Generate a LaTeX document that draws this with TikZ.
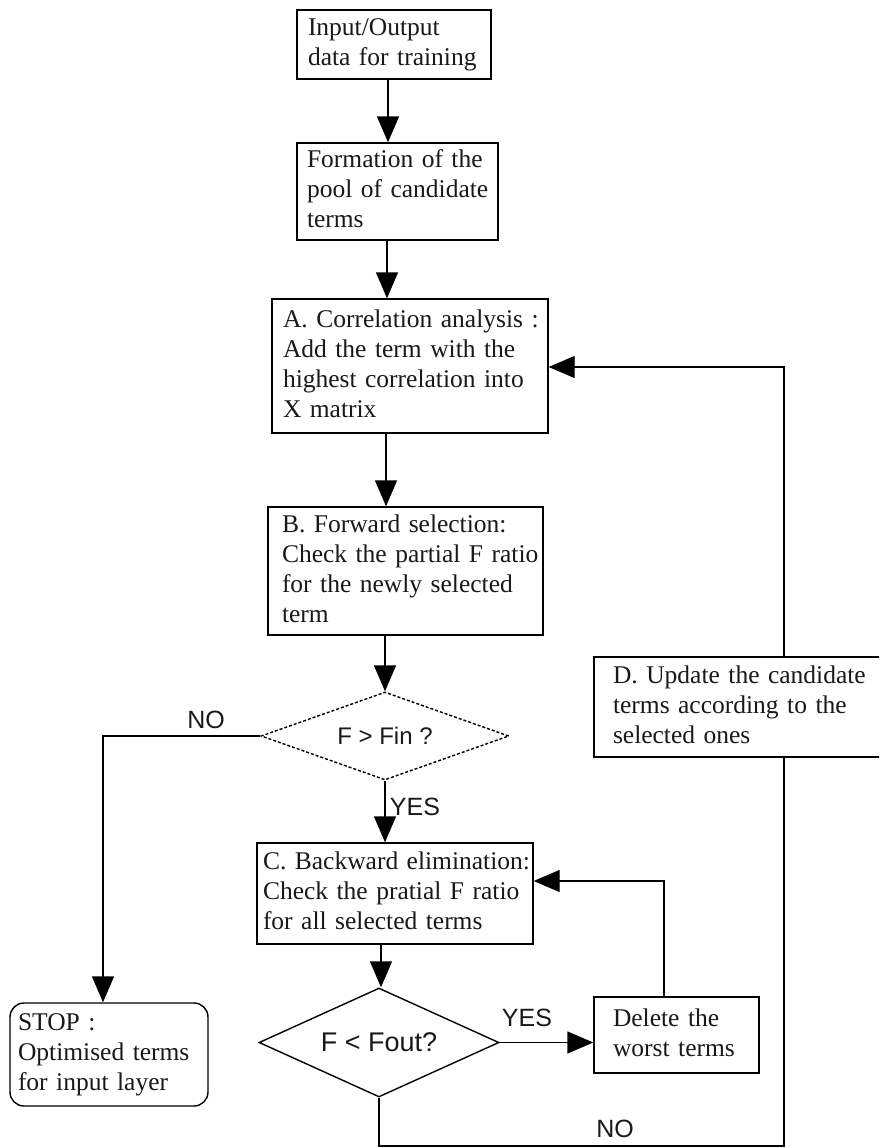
\documentclass[tikz,border=0pt]{standalone}
\usepackage{fontspec}
\setmainfont{Liberation Serif}
\newfontfamily\labelsans{Liberation Sans}
\usetikzlibrary{arrows.meta,shapes.geometric}
\newcommand\boxlines[1]{\begin{tabular}{@{}l@{}}#1\end{tabular}}
\begin{document}
\begin{tikzpicture}[x=1pt,y=-1pt,
  box/.style={draw, line width=1.4pt, rectangle, align=left, inner ysep=0pt,
    font=\fontsize{25.5}{30}\selectfont, text=black!90},
  arr/.style={line width=1.4pt, -{Triangle[length=26pt,width=22pt]}},
  ln/.style={line width=1.4pt},
  lbl/.style={font=\labelsans\fontsize{25}{30}\selectfont, text=black!90, inner sep=0pt},
  dec/.style={draw, diamond, line width=1.4pt, inner sep=0pt,
    font=\labelsans\fontsize{24}{28}\selectfont, text=black!90}
]
\clip (0,0) rectangle (879,1148);
\fill[white] (0,0) rectangle (879,1148);

% boxes
\node[box, minimum width=194pt, minimum height=69pt, inner xsep=11pt, text width=172pt]
  (in) at (394,44.5) {\boxlines{Input/Output\\data for training}};
\node[box, minimum width=201pt, minimum height=97pt, inner xsep=10pt, text width=181pt]
  (pool) at (397.5,191.5) {\boxlines{Formation of the\\pool of candidate\\terms}};
\node[box, minimum width=276pt, minimum height=134pt, inner xsep=11pt, text width=254pt]
  (A) at (410,366) {\boxlines{A. Correlation analysis :\\Add the term with the\\highest correlation into\\X matrix}};
\node[box, minimum width=275pt, minimum height=128pt, inner xsep=14pt, text width=247pt]
  (B) at (405.5,571) {\boxlines{B. Forward selection:\\Check the partial F ratio\\for the newly selected\\term}};
\node[box, minimum width=306pt, minimum height=100pt, inner xsep=19pt, text width=268pt]
  (D) at (747,707) {\boxlines{D. Update the candidate\\terms according to the\\selected ones}};
\node[box, minimum width=276pt, minimum height=101pt, inner xsep=6pt, text width=264pt]
  (C) at (395,893.5) {\boxlines{C. Backward elimination:\\Check the pratial F ratio\\for all selected terms}};
\node[box, minimum width=165pt, minimum height=76pt, inner xsep=19pt, text width=127pt]
  (del) at (676.5,1035) {\boxlines{Delete the\\worst terms}};
\node[box, rounded corners=14pt, minimum width=198pt, minimum height=103pt, inner xsep=8pt, text width=182pt]
  (stop) at (109,1054.5) {\boxlines{STOP :\\Optimised terms\\for input layer}};

% decisions
\node[dec, dashed, dash pattern=on 3pt off 2pt, minimum width=248pt, minimum height=88pt, aspect=2.8]
  (d1) at (385,736) {F > Fin ?};
\node[dec, font=\labelsans\fontsize{27}{30}\selectfont, minimum width=240pt, minimum height=109pt, aspect=2.2]
  (d2) at (379,1042.5) {F < Fout?};

% helper coordinates
\coordinate (x1) at (388,0);
\coordinate (x2) at (387,0);
\coordinate (x3) at (386,0);
\coordinate (x4) at (381,0);
\coordinate (nl) at (103,0);
\coordinate (fb) at (664,881);
\coordinate (bot) at (784,1146);
\coordinate (topr) at (784,367);

% connectors
\draw[arr] (in.south -| x1) -- (pool.north -| x1);
\draw[arr] (pool.south -| x2) -- (A.north -| x2);
\draw[arr] (A.south -| x3) -- (B.north -| x3);
\draw[arr] (B.south -| d1.north) -- (d1.north);
\draw[arr] (d1.south) -- (C.north -| d1.south);
\draw[arr] (C.south -| x4) -- (d2.north -| x4);
\draw[arr] (d2.east) -- (d2.east -| del.west);
\draw[arr] (del.north -| fb) |- (C.east |- fb);
\draw[arr] (d1.west) -| (stop.north -| nl);
\draw[ln] (d2.south) |- (bot) -- (D.south -| bot);
\draw[arr] (D.north -| topr) |- (A.east |- topr);

% labels
\node[lbl] (no1) at (206,720) {NO};
\node[lbl] (yes1) at (415,807) {YES};
\node[lbl] (yes2) at (527,1018) {YES};
\node[lbl] (no2) at (615,1129) {NO};
\end{tikzpicture}
\end{document}
